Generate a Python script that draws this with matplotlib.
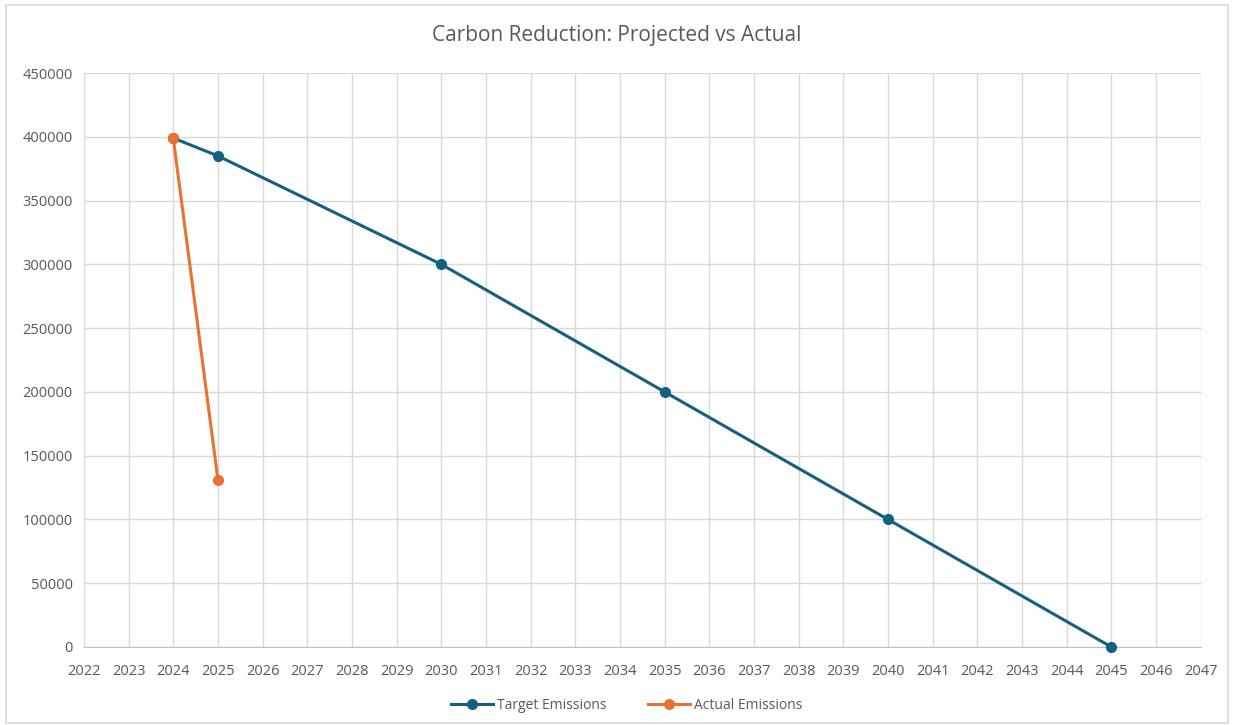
import matplotlib
matplotlib.use("Agg")
import matplotlib.pyplot as plt
from matplotlib.patches import Rectangle

target_years = [2024, 2025, 2030, 2035, 2040, 2045]
target_values = [399000, 385000, 300000, 200000, 100000, 0]
actual_years = [2024, 2025]
actual_values = [399000, 131000]
x_ticks = list(range(2022, 2048))
y_ticks = list(range(0, 450001, 50000))

plt.rcParams['font.family'] = ['Open Sans', 'DejaVu Sans']

fig = plt.figure(figsize=(12.34, 7.25), dpi=100)
fig.patches.append(Rectangle((0.005, 0.003), 0.99, 0.99, transform=fig.transFigure,
                             fill=False, edgecolor='#d9d9d9', linewidth=1.2))
ax = fig.add_axes([0.068, 0.1076, 0.905, 0.7917])

tc = '#156082'
ac = '#E97132'
ax.plot(target_years, target_values, color=tc, lw=2.2, marker='o', ms=7,
        label='Target Emissions', zorder=3, clip_on=False)
ax.plot(actual_years, actual_values, color=ac, lw=2.2, marker='o', ms=7,
        label='Actual Emissions', zorder=4, clip_on=False)

ax.set_xlim(2022, 2047)
ax.set_ylim(0, 450000)
ax.set_xticks(x_ticks)
ax.set_yticks(y_ticks)
ax.set_xticklabels([str(x) for x in x_ticks])
ax.set_yticklabels([str(y) for y in y_ticks])
ax.grid(True, color='#d9d9d9', lw=1)
ax.set_axisbelow(True)
for s in ['top', 'right', 'left']:
    ax.spines[s].set_visible(False)
ax.spines['bottom'].set_color('#bfbfbf')
ax.tick_params(length=0, labelsize=10.5, labelcolor='#595959', pad=8)
ax.tick_params(axis='x', pad=12)

fig.text(0.5, 0.951, 'Carbon Reduction: Projected vs Actual', ha='center', va='center',
         fontsize=15, color='#595959')

fig.legend(loc='center', bbox_to_anchor=(0.508, 0.027), ncol=2, frameon=False,
           fontsize=10, labelcolor='#595959', handlelength=3, columnspacing=3, handletextpad=0.3)

fig.savefig('out.png', dpi=100)
